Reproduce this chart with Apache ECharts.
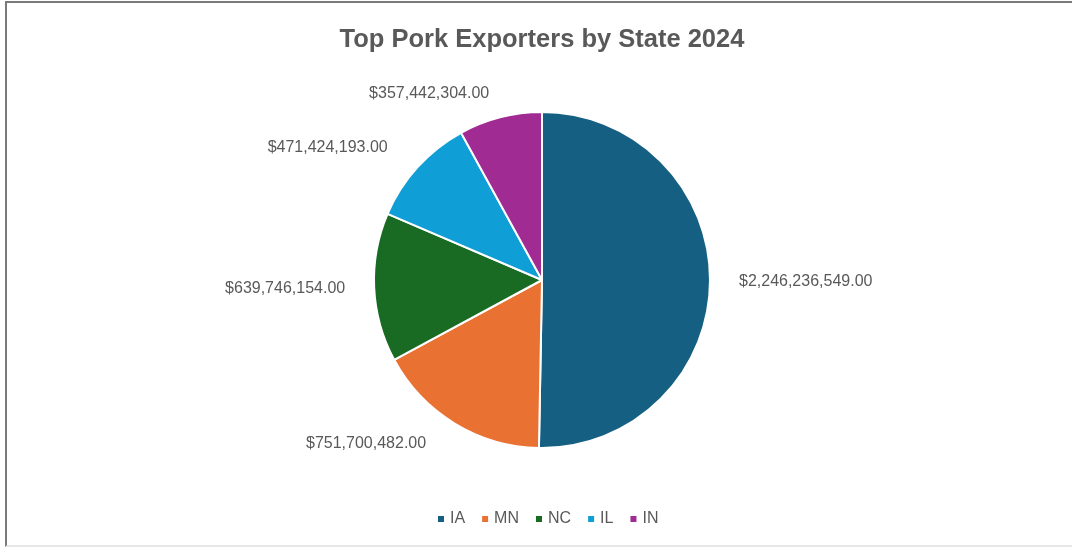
<!DOCTYPE html>
<html><head><meta charset="utf-8">
<script src="https://cdn.jsdelivr.net/npm/echarts@6/dist/echarts.min.js"></script>
<style>
html,body{margin:0;padding:0;background:#fff;}
#frame{position:absolute;left:5px;top:1px;width:1070px;height:546px;border-left:2px solid #7a7a7a;border-top:2px solid #7a7a7a;border-bottom:2px solid #e6e6e6;box-sizing:border-box;}
#chart{position:absolute;left:0;top:0;width:1072px;height:550px;}
</style></head>
<body>
<div id="frame"></div>
<div id="chart"></div>
<script>
const states = ['IA','MN','NC','IL','IN'];
const values = [2246236549.00, 751700482.00, 639746154.00, 471424193.00, 357442304.00];
const colors = ['#156082','#E97132','#196B24','#0F9ED5','#A02B93'];
const titleText = 'Top Pork Exporters by State 2024';

const fmt = v => '$' + v.toLocaleString('en-US',{minimumFractionDigits:2,maximumFractionDigits:2});
const font = '"Liberation Sans Narrow","Arial Narrow","Liberation Sans",Arial,sans-serif';

const chart = echarts.init(document.getElementById('chart'));
chart.setOption({
  animation:false,
  color: colors,
  title:{text:titleText,left:537,textAlign:'center',top:22,textStyle:{fontFamily:'"Liberation Sans",Arial,sans-serif',fontSize:25.5,fontWeight:'bold',color:'#595959'}},
  legend:{bottom:18,left:431,itemWidth:8,itemHeight:8,icon:'rect',itemGap:15,
    textStyle:{fontFamily:font,fontSize:16,color:'#595959'},data:states},
  series:[{
    type:'pie',
    center:[542,280],
    radius:[0,168],
    startAngle:90,
    clockwise:true,
    itemStyle:{borderColor:'#fff',borderWidth:2},
    label:{show:true,position:'outside',formatter:p=>fmt(p.value),fontFamily:font,fontSize:16,color:'#595959'},
    labelLine:{show:false,length:24,length2:0},
    labelLayout: p => p.dataIndex === 1 ? {dx:-11} : (p.dataIndex === 3 ? {dx:-7, dy:-3} : {}),
    data: states.map((s,i)=>({name:s,value:values[i]}))
  }]
});
</script>
</body></html>
